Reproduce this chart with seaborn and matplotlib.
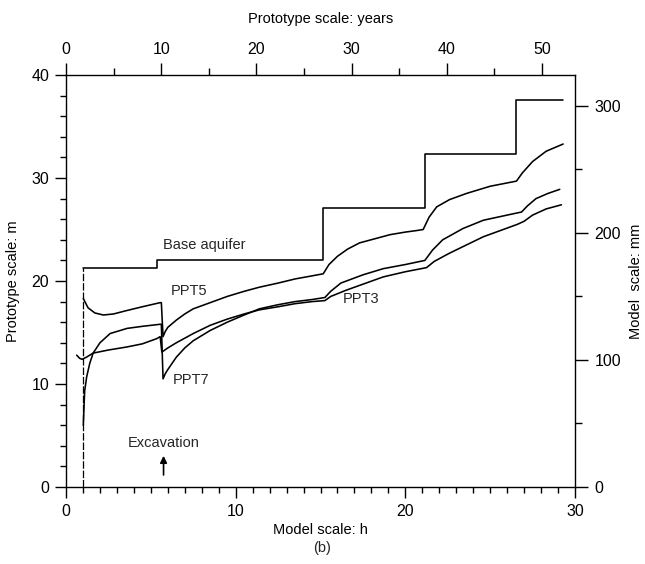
import matplotlib
matplotlib.use("Agg")
import matplotlib.pyplot as plt
import seaborn as sns
import pandas as pd
from matplotlib.ticker import FixedLocator, NullFormatter

sns.set_theme(style="ticks")
plt.rcParams['font.family'] = ['Liberation Sans', 'DejaVu Sans']

# ---- data (Model scale: h  vs  Prototype scale: m) ----
base_start_h = [1.0, 1.0]
base_start_m = [0.0, 21.3]
base_h = [1.0, 5.35, 15.15, 21.15, 26.5, 29.3]
base_m = [21.3, 22.0, 27.1, 32.3, 37.6, 37.6]

ppt5_h = [1.02, 1.3, 1.7, 2.2, 2.8, 3.5, 4.5, 5.55, 5.62, 5.72, 5.85, 6.0, 6.5, 7.0, 7.5,
          8.5, 9.5, 10.5, 11.4, 12.5, 13.5, 14.5, 15.16, 15.5, 16.0, 16.6, 17.3, 18.2,
          19.1, 20.0, 20.67, 21.05, 21.4, 21.85, 22.6, 23.6, 25.0, 26.55, 26.9, 27.5,
          28.3, 29.3]
ppt5_m = [18.3, 17.4, 16.9, 16.7, 16.8, 17.1, 17.5, 17.9, 17.9, 14.6, 15.1, 15.5, 16.2, 16.8, 17.3,
          17.9, 18.5, 19.0, 19.4, 19.8, 20.2, 20.5, 20.7, 21.6, 22.4, 23.1, 23.7, 24.1,
          24.5, 24.75, 24.9, 25.0, 26.2, 27.2, 27.9, 28.5, 29.2, 29.7, 30.5, 31.6,
          32.6, 33.3]

ppt7_h = [1.02, 1.1, 1.22, 1.4, 1.6, 2.0, 2.6, 3.6, 4.5, 5.55, 5.62, 5.72, 5.85, 6.0, 6.5,
          7.0, 7.5, 8.5, 9.5, 10.5, 11.4, 12.5, 13.5, 14.5, 15.26, 15.6, 16.2, 17.5,
          18.7, 20.0, 21.15, 21.6, 22.2, 23.4, 24.6, 26.0, 26.85, 27.2, 27.7, 28.4, 29.1]
ppt7_m = [6.0, 9.3, 10.7, 12.0, 13.0, 14.0, 14.9, 15.4, 15.6, 15.8, 15.8, 10.5, 11.0, 11.4, 12.6,
          13.5, 14.2, 15.2, 16.0, 16.7, 17.3, 17.7, 18.0, 18.2, 18.4, 19.0, 19.8, 20.6,
          21.2, 21.6, 22.0, 23.0, 24.0, 25.1, 25.9, 26.4, 26.7, 27.3, 28.0, 28.5, 28.9]

ppt3_h = [0.63, 0.8, 0.95, 1.2, 1.6, 2.5, 3.6, 4.5, 5.34, 5.55, 5.65, 6.0, 6.5, 7.5,
          8.5, 9.5, 10.5, 11.4, 12.5, 13.5, 14.5, 15.26, 15.6, 16.5, 18.7, 20.0, 21.25,
          21.7, 22.6, 24.6, 26.6, 27.0, 27.5, 28.3, 29.2]
ppt3_m = [12.8, 12.5, 12.4, 12.6, 13.0, 13.3, 13.6, 13.9, 14.4, 14.6, 13.1, 13.5, 14.0, 14.9,
          15.7, 16.3, 16.8, 17.2, 17.5, 17.8, 18.0, 18.1, 18.5, 19.1, 20.4, 20.9, 21.3,
          21.9, 22.7, 24.3, 25.5, 25.8, 26.4, 27.0, 27.4]

# tick values
x_major = [0, 10, 20, 30]
x_minor = list(range(0, 31))
y_major = [0, 10, 20, 30, 40]
y_minor = list(range(0, 41, 2))
years_major = [0, 10, 20, 30, 40, 50]
years_minor = [5, 15, 25, 35, 45]
mm_major = [0, 100, 200, 300]
mm_minor = [50, 150, 250]

YEARS_PER_H = 1.7825   # prototype years per model hour
MM_PER_M = 8.1         # model mm per prototype m

curves = pd.concat([
    pd.DataFrame({"h": ppt5_h, "m": ppt5_m, "series": "PPT5"}),
    pd.DataFrame({"h": ppt7_h, "m": ppt7_m, "series": "PPT7"}),
    pd.DataFrame({"h": ppt3_h, "m": ppt3_m, "series": "PPT3"}),
], ignore_index=True)
base = pd.DataFrame({"h": base_h, "m": base_m})
base_start = pd.DataFrame({"h": base_start_h, "m": base_start_m})

fig = plt.figure(figsize=(6.45, 5.64), dpi=100)
ax = fig.add_axes([0.1023, 0.1365, 0.7892, 0.7305])

lw = 1.15
sns.lineplot(data=curves, x="h", y="m", units="series", estimator=None, sort=False,
             color="black", lw=lw, ax=ax, legend=False)
sns.lineplot(data=base, x="h", y="m", estimator=None, sort=False,
             color="black", lw=lw, drawstyle="steps-post", ax=ax, legend=False)
sns.lineplot(data=base_start, x="h", y="m", estimator=None, sort=False,
             color="black", lw=0.9, linestyle=(0, (6, 1.5)), ax=ax, legend=False)

ax.set_xlim(0, 30)
ax.set_ylim(0, 40)
ax.xaxis.set_major_locator(FixedLocator(x_major))
ax.xaxis.set_minor_locator(FixedLocator(x_minor))
ax.yaxis.set_major_locator(FixedLocator(y_major))
ax.yaxis.set_minor_locator(FixedLocator(y_minor))
ax.xaxis.set_minor_formatter(NullFormatter())
ax.yaxis.set_minor_formatter(NullFormatter())

fs = 10.5
tfs = 11.5
for s in ax.spines.values():
    s.set_linewidth(1.0)
    s.set_color("black")
ax.tick_params(which="both", direction="out", color="black", width=1.0, labelsize=tfs,
               labelcolor="black")
ax.tick_params(which="major", length=8, pad=4)
ax.tick_params(which="minor", length=4)

ax.set_xlabel("Model scale: h", fontsize=fs, color="black", labelpad=3)
ax.set_ylabel("Prototype scale: m", fontsize=fs, color="black", labelpad=8)

top = ax.secondary_xaxis("top", functions=(lambda h: h * YEARS_PER_H,
                                            lambda y: y / YEARS_PER_H))
top.xaxis.set_major_locator(FixedLocator(years_major))
top.xaxis.set_minor_locator(FixedLocator(years_minor))
top.xaxis.set_minor_formatter(NullFormatter())
top.tick_params(which="both", direction="out", color="black", width=1.0, labelsize=tfs,
                labelcolor="black")
top.tick_params(which="major", length=9, pad=4)
top.tick_params(which="minor", length=5)
top.spines["top"].set_visible(False)
top.set_xlabel("Prototype scale: years", fontsize=fs, color="black", labelpad=14)

right = ax.secondary_yaxis("right", functions=(lambda m: m * MM_PER_M,
                                                lambda mm: mm / MM_PER_M))
right.yaxis.set_major_locator(FixedLocator(mm_major))
right.yaxis.set_minor_locator(FixedLocator(mm_minor))
right.yaxis.set_minor_formatter(NullFormatter())
right.tick_params(which="both", direction="out", color="black", width=1.0, labelsize=tfs,
                  labelcolor="black")
right.tick_params(which="major", length=9, pad=5)
right.tick_params(which="minor", length=5)
right.spines["right"].set_visible(False)
right.set_ylabel("Model  scale: mm", fontsize=fs, color="black", labelpad=6)

# labels on curves
ax.text(5.7, 23.5, "Base aquifer", fontsize=fs, va="center", ha="left")
ax.text(6.2, 19.0, "PPT5", fontsize=fs, va="center", ha="left")
ax.text(6.3, 10.4, "PPT7", fontsize=fs, va="center", ha="left")
ax.text(16.3, 18.3, "PPT3", fontsize=fs, va="center", ha="left")

ax.text(5.75, 4.3, "Excavation", fontsize=fs, va="center", ha="center")
ax.annotate("", xy=(5.75, 3.3), xytext=(5.75, 0.9),
            arrowprops=dict(arrowstyle="-|>", color="black", lw=1.2,
                            mutation_scale=10))

fig.text(0.4995, 0.028, "(b)", fontsize=fs, ha="center", va="center")

fig.savefig("out.png", dpi=100)
